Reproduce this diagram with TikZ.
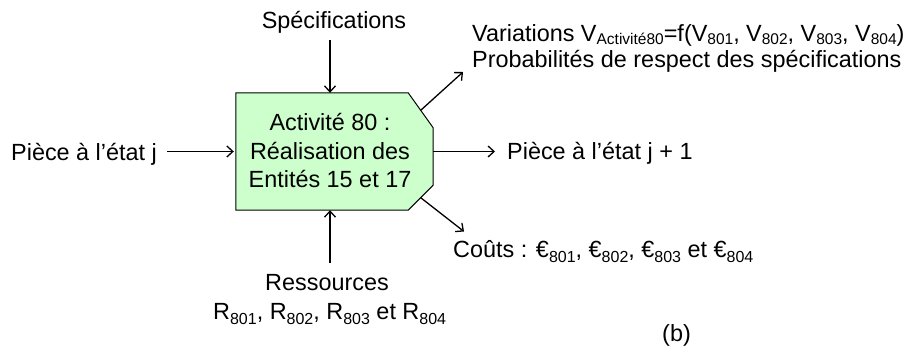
\documentclass[tikz,border=0pt]{standalone}
\usepackage{fontspec}
\setmainfont{Liberation Sans}
\usetikzlibrary{arrows.meta,calc}
\definecolor{actfill}{RGB}{204,255,204}
\newcommand{\sbs}[1]{\raisebox{-5pt}{\fontsize{16}{16}\selectfont #1}}
\newcommand{\sbt}[1]{\raisebox{-3pt}{\fontsize{15.5}{15.5}\selectfont #1}}
\begin{document}
\begin{tikzpicture}[x=1pt,y=-1pt,
  lbl/.style={inner sep=0pt, font=\fontsize{23.4}{28.5}\selectfont},
  arr/.style={line width=1.3pt, -{Straight Barb[length=6pt,width=11pt,line width=1.3pt]}},
  actbox/.style={draw=none, minimum width=197pt, minimum height=117pt, inner sep=0pt}]
\useasboundingbox (0,0) rectangle (920,351);
\node[actbox] (box) at (334.5,151.5) {};
\filldraw[fill=actfill, draw=black, line width=1pt] (box.north west) -- ([xshift=-25pt]box.north east) -- ([yshift=-35pt]box.north east) -- ([yshift=25pt]box.south east) -- ([xshift=-25pt]box.south east) -- (box.south west) -- cycle;
\node[lbl, align=center] (bt) at (330,150.8) {Activité 80 :\\Réalisation des\\Entités 15 et 17};
\node[lbl, anchor=base] (spec) at (334,28) {Spécifications};
\node[lbl, anchor=base west] (pl) at (11,160) {Pièce à l’état j};
\node[lbl, anchor=base west] (pr) at (507,159.5) {Pièce à l’état j + 1};
\node[lbl, anchor=base west] (var1) at (472,41) {Variations V\sbt{Activité80}=f(V\sbt{801}, V\sbt{802}, V\sbt{803}, V\sbt{804})};
\node[lbl, anchor=base west] (var2) at (472,67) {Probabilités de respect des spécifications};
\node[lbl, anchor=base west] (cout) at (453,257) {Coûts : €\sbs{801}, €\sbs{802}, €\sbs{803} et €\sbs{804}};
\node[lbl, anchor=base] (res1) at (327,290) {Ressources};
\node[lbl, anchor=base west] (res2) at (213,319) {R\sbs{801}, R\sbs{802}, R\sbs{803} et R\sbs{804}};
\node[lbl, anchor=base west] (b) at (662,341) {(b)};
\coordinate (topin) at ([xshift=-4.5pt]box.north);
\coordinate (botin) at ([xshift=-4.5pt]box.south);
\coordinate (ur) at (463,72);
\coordinate (lr) at (464,231.5);
\draw[arr] (spec.base -| topin) ++(0,12) -- (topin);
\draw[arr] (res1.base -| botin) ++(0,-27) -- (botin);
\draw[arr] (pl.base east |- box.west) ++(10,0) -- ([xshift=-2pt]box.west);
\draw[arr] (box.east) -- ([xshift=-12pt]pr.base west |- box.east);
\draw[arr] ($(box.north east)+(-12.5,17.5)$) -- (ur);
\draw[arr] ($(box.south east)+(-12.5,-12.5)$) -- (lr);
\end{tikzpicture}
\end{document}
